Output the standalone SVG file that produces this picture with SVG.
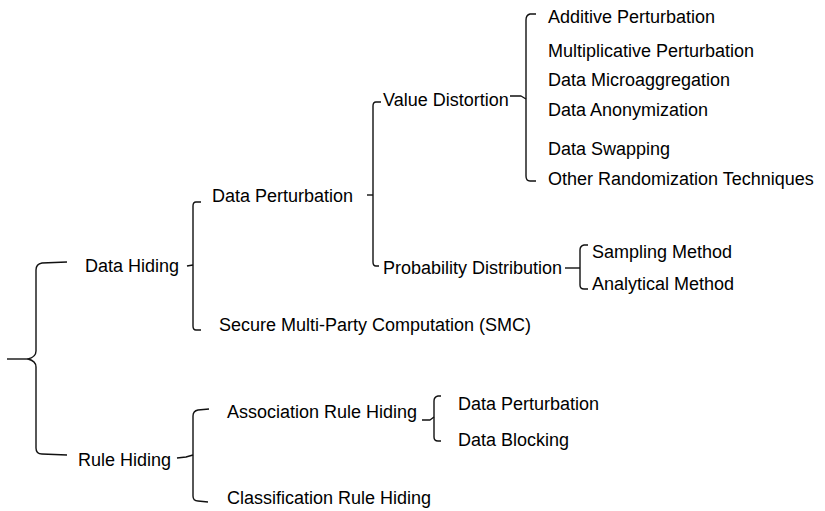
<svg xmlns="http://www.w3.org/2000/svg" width="825" height="511" viewBox="0 0 825 511">
  <style>
    .lbl { font-family: "Liberation Sans", Arial, sans-serif; font-size: 18px; fill: #000; }
    .br { fill: none; stroke: #111; stroke-width: 1.4; stroke-linejoin: round; stroke-linecap: butt; }
  </style>
  <rect width="825" height="511" fill="#fff"/>

  <!-- brace connectors -->
  <g id="connectors">
    <!-- root brace -->
    <path class="br" d="M7,359 L28,359"/>
    <path class="br" d="M67,262 L42,263 Q36,264 36,270 L36,351 Q36,357 28,359 Q36,361 36,367 L36,448 Q36,454 42,454 L67,455"/>
    <!-- Data Hiding -->
    <path class="br" d="M187,266 L193,265"/>
    <path class="br" d="M201,202 L196,202 Q193,202 193,206 L193,326 Q193,330 196,330 L201,330"/>
    <!-- Data Perturbation -->
    <path class="br" d="M367,195 L373,195"/>
    <path class="br" d="M381,102 L376,102 Q373,102 373,106 L373,262 Q373,266 376,266 L379,266"/>
    <!-- Value Distortion -->
    <path class="br" d="M510,96 L521,96 L526,99"/>
    <path class="br" d="M536,14 L530,14 Q526,15 526,20 L526,176 Q526,181 530,181 L536,181"/>
    <!-- Probability Distribution -->
    <path class="br" d="M565,268 L580,268"/>
    <path class="br" d="M588,245 L584,245 Q580,246 580,250 L580,285 Q580,289 584,289 L588,289"/>
    <!-- Rule Hiding -->
    <path class="br" d="M177,458 L186,457 L193,455"/>
    <path class="br" d="M209,409 L198,410 Q193,411 193,416 L193,496 Q193,501 198,501 L208,502"/>
    <!-- Association Rule Hiding -->
    <path class="br" d="M422,420 L430,420 L434,417"/>
    <path class="br" d="M441,396 L438,396 Q434,397 434,401 L434,437 Q434,441 438,441 L441,441"/>
  </g>

  <g id="data-hiding"><text class="lbl" x="85" y="272">Data Hiding</text></g>
  <g id="rule-hiding"><text class="lbl" x="78" y="466">Rule Hiding</text></g>

  <g id="data-perturbation"><text class="lbl" x="212" y="202">Data Perturbation</text></g>
  <g id="smc"><text class="lbl" x="219" y="331">Secure Multi-Party Computation (SMC)</text></g>

  <g id="value-distortion"><text class="lbl" x="383" y="106">Value Distortion</text></g>
  <g id="probability-distribution"><text class="lbl" x="383" y="274">Probability Distribution</text></g>

  <g id="additive-perturbation"><text class="lbl" x="548" y="23">Additive Perturbation</text></g>
  <g id="multiplicative-perturbation"><text class="lbl" x="548" y="57">Multiplicative Perturbation</text></g>
  <g id="data-microaggregation"><text class="lbl" x="548" y="86">Data Microaggregation</text></g>
  <g id="data-anonymization"><text class="lbl" x="548" y="116">Data Anonymization</text></g>
  <g id="data-swapping"><text class="lbl" x="548" y="155">Data Swapping</text></g>
  <g id="other-randomization"><text class="lbl" x="548" y="185">Other Randomization Techniques</text></g>

  <g id="sampling-method"><text class="lbl" x="592" y="258">Sampling Method</text></g>
  <g id="analytical-method"><text class="lbl" x="592" y="290">Analytical Method</text></g>

  <g id="association-rule-hiding"><text class="lbl" x="227" y="418">Association Rule Hiding</text></g>
  <g id="classification-rule-hiding"><text class="lbl" x="227" y="504">Classification Rule Hiding</text></g>

  <g id="rule-data-perturbation"><text class="lbl" x="458" y="410">Data Perturbation</text></g>
  <g id="data-blocking"><text class="lbl" x="458" y="446">Data Blocking</text></g>
</svg>
